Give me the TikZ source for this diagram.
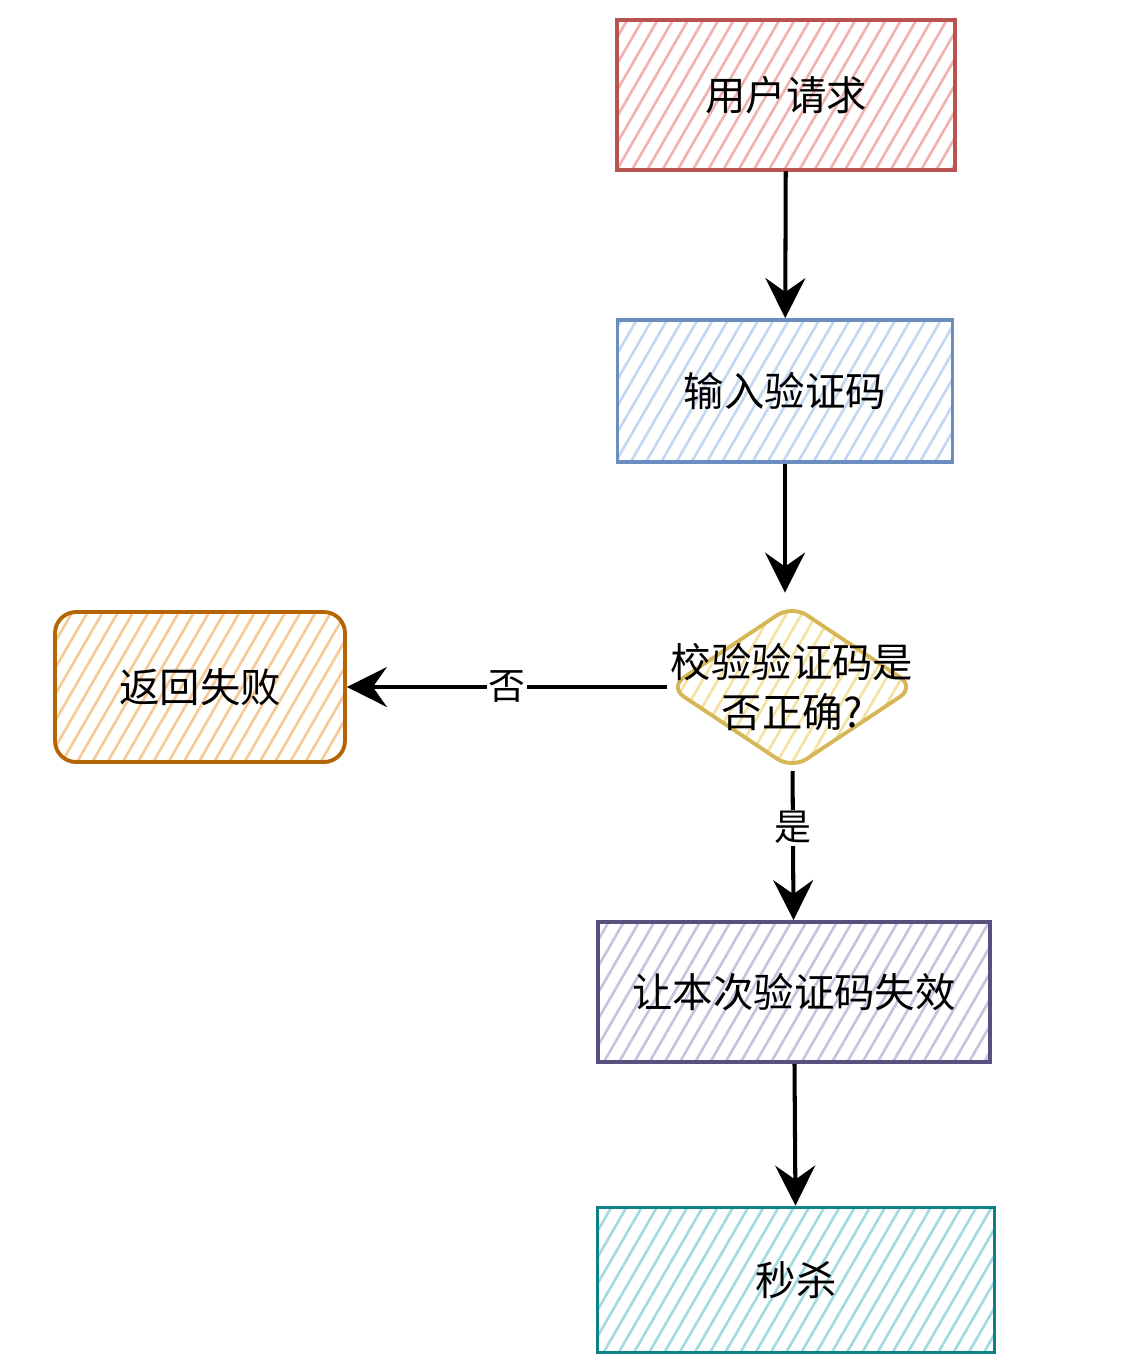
\documentclass[tikz,border=0pt]{standalone}
\usepackage{fontspec}
\setmainfont{Noto Sans CJK SC}
\usetikzlibrary{arrows.meta,shapes.geometric,patterns.meta}
\definecolor{skred}{HTML}{B85450}
\definecolor{skredFill}{HTML}{F0B2B0}
\definecolor{skblue}{HTML}{6C8EBF}
\definecolor{skblueFill}{HTML}{C3D7F2}
\definecolor{skyellow}{HTML}{D6B656}
\definecolor{skyellowFill}{HTML}{F5E2A2}
\definecolor{skorange}{HTML}{B46504}
\definecolor{skorangeFill}{HTML}{F5CA96}
\definecolor{skpurple}{HTML}{56517E}
\definecolor{skpurpleFill}{HTML}{C6C3DE}
\definecolor{skteal}{HTML}{0E8088}
\definecolor{sktealFill}{HTML}{A2DADE}

\begin{document}
\begin{tikzpicture}[
    x=0.02cm, y=-0.02cm,
    box/.style={
      draw=#1, line width=2.2pt, inner sep=0pt,
      pattern={Lines[angle=60, distance=7.5pt, line width=1.5pt]},
      pattern color=#1Fill, font=\fontsize{23}{28}\selectfont,
    },
    decision/.style={
      diamond, draw=#1, line width=2.2pt, inner sep=0pt,
      rounded corners=10pt,
      pattern={Lines[angle=60, distance=7.5pt, line width=1.5pt]},
      pattern color=#1Fill,
    },
    flow/.style={line width=2.3pt, -{Stealth[length=0.8cm, width=0.8cm, inset=0.28cm]}},
    yesno/.style={fill=white, inner sep=1pt, font=\fontsize{21}{24}\selectfont},
  ]
  \useasboundingbox (0,0) rectangle (1130,1370);

  % ===== main column =====
  \node[box=skred, minimum width=6.76cm, minimum height=3.0cm] (req) at (786, 95) {用户请求};
  \node[box=skblue, minimum width=6.7cm, minimum height=2.84cm] (input) at (785, 391) {输入验证码};
  \node[decision=skyellow, minimum width=4.94cm, minimum height=3.3cm] (check) at (792, 687) {};
  \node[font=\fontsize{23}{28}\selectfont, align=center] (checktxt) at (check) {校验验证码是\\否正确?};
  \node[box=skpurple, minimum width=7.84cm, minimum height=2.8cm] (invalid) at (794, 992) {让本次验证码失效};
  \node[box=skteal, minimum width=7.94cm, minimum height=2.9cm] (kill) at (796, 1280) {秒杀};

  % ===== failure branch =====
  \node[box=skorange, rounded corners=12pt, minimum width=5.8cm, minimum height=3.0cm] (fail) at (200, 687) {返回失败};

  % ===== connectors =====
  \draw[flow] (req) -- (input);
  \draw[flow] (input) -- ([yshift=0.2cm]input |- check.north);
  \draw[flow] (check) -- node[yesno, pos=0.38] {是} (invalid);
  \draw[flow] (check) -- node[yesno] {否} (fail);
  \draw[flow] (invalid) -- (kill);
\end{tikzpicture}
\end{document}
